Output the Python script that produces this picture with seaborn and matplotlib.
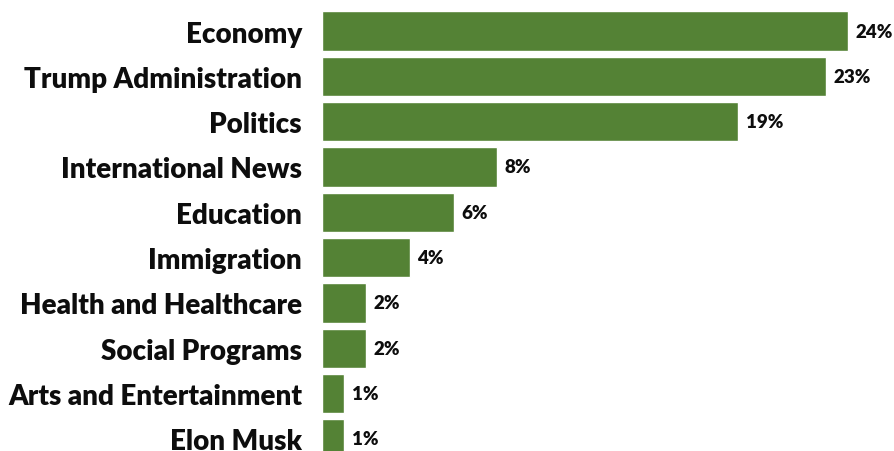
import matplotlib
matplotlib.use("Agg")
import matplotlib.pyplot as plt
import seaborn as sns
import pandas as pd

categories = ["Economy", "Trump Administration", "Politics", "International News",
              "Education", "Immigration", "Health and Healthcare", "Social Programs",
              "Arts and Entertainment", "Elon Musk"]
values = [24, 23, 19, 8, 6, 4, 2, 2, 1, 1]
value_labels = ["24%", "23%", "19%", "8%", "6%", "4%", "2%", "2%", "1%", "1%"]

sns.set_theme(style="white")
plt.rcParams['font.family'] = ['Lato', 'DejaVu Sans']

df = pd.DataFrame({"category": categories, "value": values})

fig = plt.figure(figsize=(8.95, 4.52), dpi=100)
ax = fig.add_axes([322/895, 0, 1 - 322/895, 1])
sns.barplot(data=df, y="category", x="value", color="#548235", saturation=1,
            width=0.87, ax=ax, orient="h")

ax.set_xlim(0, 573/21.92)
ax.set_ylim(9.265, -0.706)
ax.set_xlabel("")
ax.set_ylabel("")
ax.set_xticks([])
for s in ax.spines.values():
    s.set_visible(False)
ax.tick_params(axis="y", length=0, pad=14.4)
for lbl in ax.get_yticklabels():
    lbl.set_fontsize(20)
    lbl.set_fontweight("heavy")
    lbl.set_color("#0d0d0d")

for i, (v, t) in enumerate(zip(values, value_labels)):
    ax.annotate(t, xy=(v, i), xytext=(5.5, 0), textcoords="offset points",
                va="center", ha="left", fontsize=13.5, fontweight="heavy", color="#0d0d0d")

fig.savefig("out.png", dpi=100)
